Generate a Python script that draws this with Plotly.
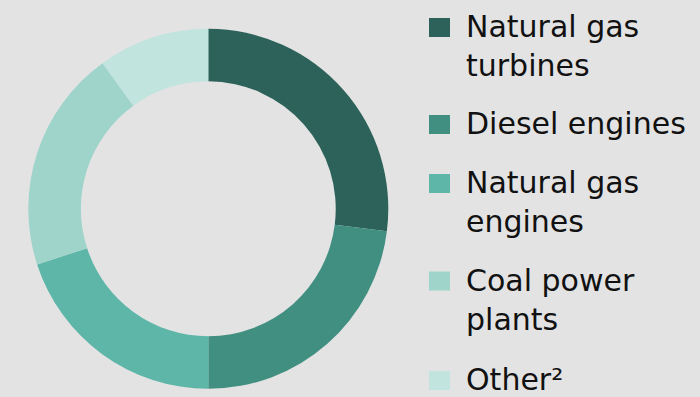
import plotly.graph_objects as go

# ---- data ----
labels = ["Natural gas turbines", "Diesel engines", "Natural gas engines", "Coal power plants", "Other²"]
legend_text = ["Natural gas<br>turbines", "Diesel engines", "Natural gas<br>engines", "Coal power<br>plants", "Other²"]
values = [27, 23, 20, 20, 10]
colors = ["#2c6259", "#418f81", "#5db6a8", "#9fd4cb", "#c1e4de"]

W, H = 700, 397
BG = "#e3e3e3"

# ---- layout positions (pixels) ----
cx, cy, R = 208.3, 208.8, 180.0
baselines = [36, 133, 192, 289.5, 389]   # first-line baseline of each legend entry
FS = 30
sq_x0, sq_x1, sq_h = 429, 450, 19
text_x = 465

fig = go.Figure(go.Pie(
    labels=labels, values=values, hole=0.708, sort=False, direction="clockwise",
    rotation=0, marker=dict(colors=colors, line=dict(width=0)),
    textinfo="none", hoverinfo="label+percent", showlegend=False,
    domain=dict(x=[(cx - R) / W, (cx + R) / W], y=[(H - cy - R) / H, (H - cy + R) / H]),
))

shapes, annotations = [], []
for txt, col, bl in zip(legend_text, colors, baselines):
    shapes.append(dict(type="rect", xref="paper", yref="paper",
                       x0=sq_x0 / W, x1=sq_x1 / W,
                       y0=1 - (bl + 1) / H, y1=1 - (bl + 1 - sq_h) / H,
                       fillcolor=col, line=dict(width=0)))
    top = bl - 0.928 * FS
    annotations.append(dict(text=txt, xref="paper", yref="paper",
                            x=text_x / W, y=1 - top / H, xanchor="left", yanchor="top",
                            align="left", showarrow=False, borderpad=0,
                            font=dict(family="DejaVu Sans, Verdana, sans-serif", size=FS, color="#111111")))

fig.update_layout(width=W, height=H, margin=dict(l=0, r=0, t=0, b=0),
                  paper_bgcolor=BG, plot_bgcolor=BG,
                  shapes=shapes, annotations=annotations, showlegend=False)

fig.write_html("out.html")
